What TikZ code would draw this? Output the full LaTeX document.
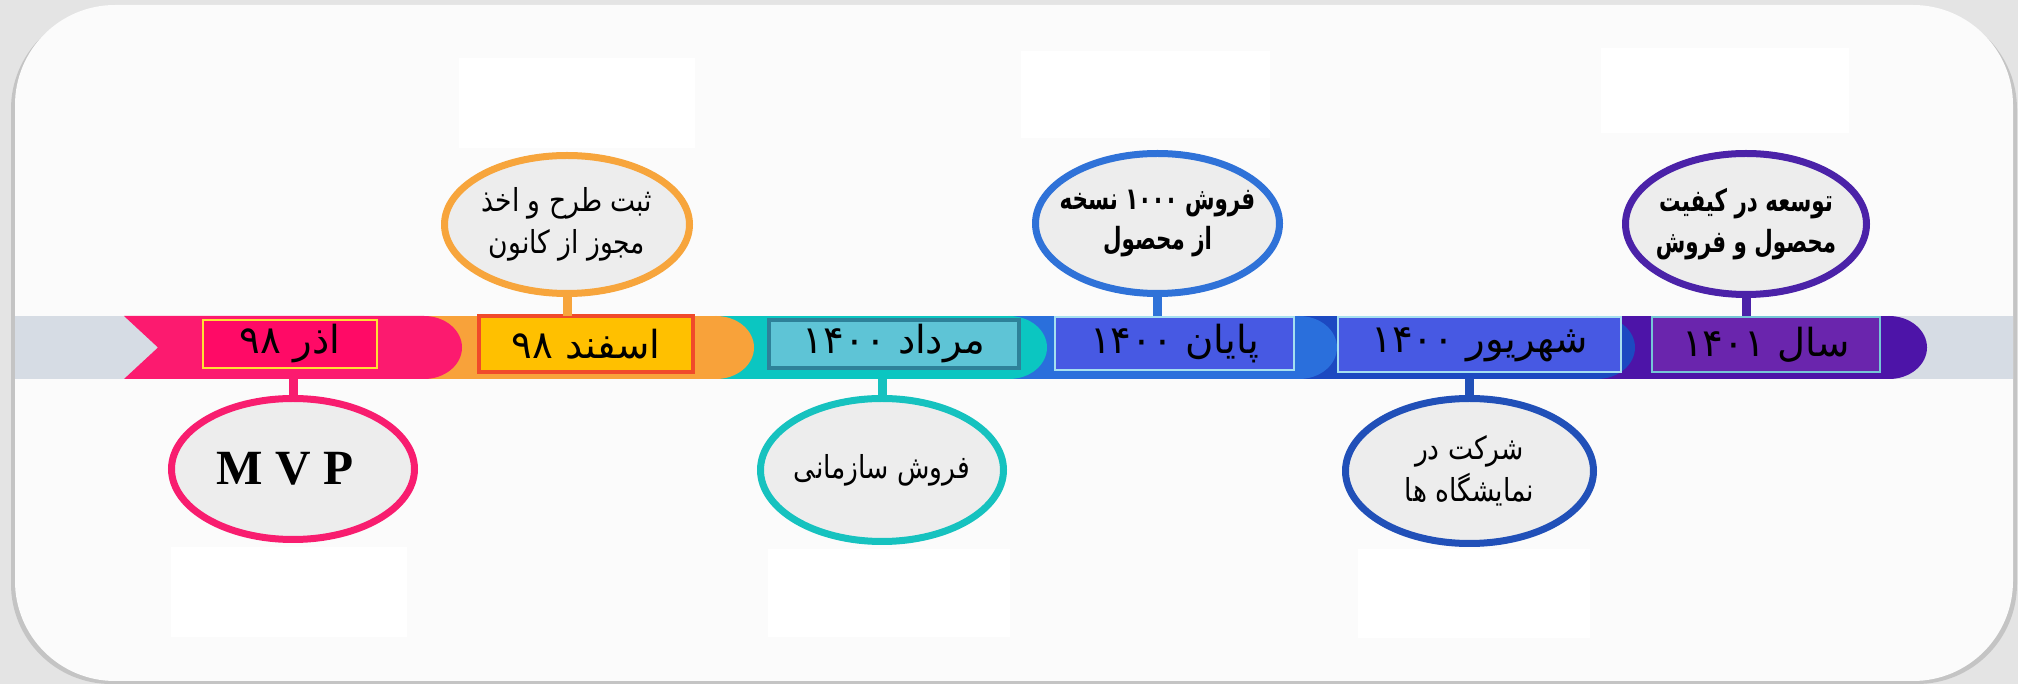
\documentclass[tikz,border=0pt]{standalone}
\usepackage{fontspec}
\setmainfont{Liberation Serif}
\newfontfamily\fafont[Script=Arabic]{DejaVu Sans}
\newfontfamily\fabubble[Script=Arabic,FakeStretch=0.84]{DejaVu Sans}
\newfontfamily\fabold[Script=Arabic,FakeStretch=0.7]{DejaVu Sans Bold}
\usepackage{tikz}
\usetikzlibrary{shapes.geometric}
\TeXXeTstate=1

\definecolor{pagegray}{HTML}{E4E4E4}
\definecolor{shadegray}{HTML}{C4C4C4}
\definecolor{cardwhite}{HTML}{FBFBFB}
\definecolor{bandgray}{HTML}{D6DCE4}
\definecolor{segpink}{HTML}{FC1A6F}
\definecolor{segorange}{HTML}{F8A23A}
\definecolor{segteal}{HTML}{0BC6C1}
\definecolor{segblue}{HTML}{2A6FDC}
\definecolor{segdarkblue}{HTML}{1C49C1}
\definecolor{segpurple}{HTML}{4D14A8}
\definecolor{bubblefill}{HTML}{EDEDED}
\definecolor{azarfill}{HTML}{FF0A66}
\definecolor{azarline}{HTML}{FFE033}
\definecolor{esfandfill}{HTML}{FFC000}
\definecolor{esfandline}{HTML}{F04A2A}
\definecolor{mordadfill}{HTML}{5EC4D6}
\definecolor{mordadline}{HTML}{2E8199}
\definecolor{bluefill}{HTML}{4759E3}
\definecolor{blueline}{HTML}{A5DFF0}
\definecolor{salfill}{HTML}{6A25AD}
\definecolor{salline}{HTML}{75C6D6}
\definecolor{ringpink}{HTML}{F81D6F}
\definecolor{ringorange}{HTML}{F7A53C}
\definecolor{ringteal}{HTML}{16C2BF}
\definecolor{ringblue}{HTML}{2F72D8}
\definecolor{ringdarkblue}{HTML}{2150B8}
\definecolor{ringpurple}{HTML}{4B22A8}

\begin{document}
\begin{tikzpicture}[x=0.1mm,y=-0.1mm,
  datebox/.style={draw,line width=0.7pt,inner sep=0pt,font=\fafont\fontsize{11}{13}\selectfont},
  bubble/.style={ellipse,draw=#1,line width=0.7mm,fill=bubblefill,inner sep=0pt,
    minimum width=24.4mm,minimum height=14mm},
  bubtext/.style={align=center,inner sep=0pt,font=\fabubble\fontsize{9}{12}\selectfont},
  bubbold/.style={align=center,inner sep=0pt,font=\fabold\fontsize{8.7}{11.5}\selectfont},
  stem/.style={line width=0.9mm}]

\useasboundingbox (0,0) rectangle (2018,684);
\fill[pagegray] (0,0) rectangle (2018,684);
\fill[shadegray, rounded corners=10mm] (11,9) rectangle (2017,684);
\fill[cardwhite, rounded corners=10mm] (15,5) rectangle (2013,681);
% blank boxes on the card
\fill[white] (459,58) rectangle (695,148);
\fill[white] (1021,51) rectangle (1270,138);
\fill[white] (1601,48) rectangle (1849,133);
\fill[white] (171,547) rectangle (407,637);
\fill[white] (768,549) rectangle (1010,637);
\fill[white] (1358,549) rectangle (1590,638);

% band
\fill[bandgray] (15,316) rectangle (2013,379);
\coordinate (bandtop) at (0,316);
\coordinate (bandbot) at (0,379);
\fill[segpurple] (1595,316) rectangle (1889,379);
\fill[segpurple] (1889,347.5) ellipse[x radius=38,y radius=31.5];
\fill[segdarkblue] (1295,316) rectangle (1597,379);
\fill[segdarkblue] (1597,347.5) ellipse[x radius=38,y radius=31.5];
\fill[segblue] (1005,316) rectangle (1299,379);
\fill[segblue] (1299,347.5) ellipse[x radius=38,y radius=31.5];
\fill[segteal] (712,316) rectangle (1009,379);
\fill[segteal] (1009,347.5) ellipse[x radius=38,y radius=31.5];
\fill[segorange] (420,316) rectangle (716,379);
\fill[segorange] (716,347.5) ellipse[x radius=38,y radius=31.5];
\fill[segpink] (124,316) -- (424,316) -- (424,379) -- (124,379) -- (158,347.5) -- cycle;
\fill[segpink] (424,347.5) ellipse[x radius=38,y radius=31.5];

% dates
\node[datebox, fill=azarfill, draw=azarline,
  minimum width=17.4mm, minimum height=4.8mm] (azar) at (290,344) {\beginR اذر ۹۸\endR};
\node[datebox, fill=esfandfill, draw=esfandline, line width=1.2pt,
  minimum width=21.4mm, minimum height=5.6mm] (esfand) at (586,344) {\beginR اسفند ۹۸\endR};
\node[datebox, fill=mordadfill, draw=mordadline, line width=1.2pt,
  minimum width=25mm, minimum height=4.8mm] (mordad) at (894,344) {\beginR مرداد ۱۴۰۰\endR};
\node[datebox, fill=bluefill, draw=blueline,
  minimum width=23.9mm, minimum height=5.3mm] (payan) at (1174.5,343.5) {\beginR پایان ۱۴۰۰\endR};
\node[datebox, fill=bluefill, draw=blueline,
  minimum width=28.3mm, minimum height=5.5mm] (shahrivar) at (1479.5,344.5) {\beginR شهریور ۱۴۰۰\endR};
\node[datebox, fill=salfill, draw=salline,
  minimum width=22.8mm, minimum height=5.5mm] (sal) at (1766,344.5) {\beginR سال ۱۴۰۱\endR};

% bubbles
\node[bubble=ringpink, minimum height=14.1mm, minimum width=24.3mm,
  label={[inner sep=0pt,xshift=-0.8mm,font=\bfseries\fontsize{14}{16}\selectfont]center:M V P}] (mvp) at (293,469) {};
\node[bubble=ringorange, minimum height=13.8mm, minimum width=24.5mm,
  label={[bubtext]center:{\beginR ثبت طرح و اخذ\endR\\\beginR مجوز از کانون\endR}}] (mojavez) at (567,224.5) {};
\node[bubble=ringteal, minimum height=14.3mm, minimum width=24.3mm,
  label={[bubtext]center:{\beginR فروش سازمانی\endR}}] (sazmani) at (882,470) {};
\node[bubble=ringblue, minimum height=14mm,
  label={[bubbold]center:{\beginR فروش ۱۰۰۰ نسخه\endR\\\beginR از محصول\endR}}] (noskhe) at (1157.5,223.5) {};
\node[bubble=ringdarkblue, minimum height=14.5mm, minimum width=24.8mm,
  label={[bubtext]center:{\beginR شرکت در\endR\\\beginR نمایشگاه ها\endR}}] (namayesh) at (1469.5,471) {};
\node[bubble=ringpurple, minimum height=14.1mm, minimum width=24.1mm,
  label={[bubbold]center:{\beginR توسعه در کیفیت\endR\\\beginR محصول و فروش\endR}}] (tosee) at (1746,224) {};

\draw[stem, ringpink] (mvp.north) -- (mvp.north |- bandbot);
\draw[stem, ringorange] (mojavez.south) -- (mojavez.south |- bandtop);
\draw[stem, ringteal] (sazmani.north) -- (sazmani.north |- bandbot);
\draw[stem, ringblue] (noskhe.south) -- (noskhe.south |- bandtop);
\draw[stem, ringdarkblue] (namayesh.north) -- (namayesh.north |- bandbot);
\draw[stem, ringpurple] (tosee.south) -- (tosee.south |- bandtop);
\end{tikzpicture}
\end{document}
